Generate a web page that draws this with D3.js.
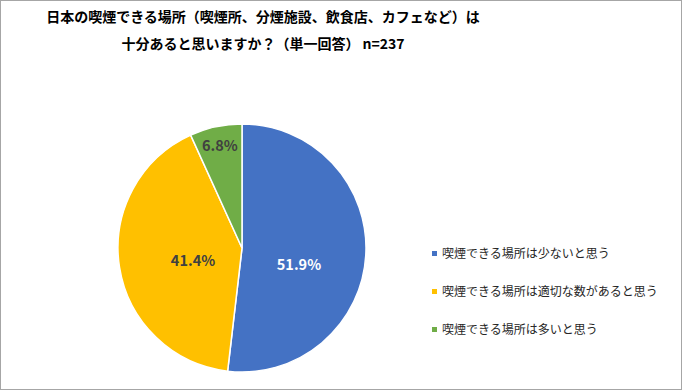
<!DOCTYPE html>
<html>
<head>
<meta charset="utf-8">
<script src="https://cdn.jsdelivr.net/npm/d3@7"></script>
<style>
  body { margin: 0; background: #fff; }
  svg { display: block; font-family: "Noto Sans CJK JP", "Noto Sans", sans-serif; }
</style>
</head>
<body>
<svg width="682" height="390"></svg>
<script>
const categories = [
  "喫煙できる場所は少ないと思う",
  "喫煙できる場所は適切な数があると思う",
  "喫煙できる場所は多いと思う"
];
const values = [51.9, 41.4, 6.8];
const colors = ["#4472c4", "#ffc000", "#70ad47"];
const labelColors = ["#ffffff", "#404040", "#404040"];
const titleLines = [
  "日本の喫煙できる場所（喫煙所、分煙施設、飲食店、カフェなど）は",
  "十分あると思いますか？（単一回答） n=237"
];

const svg = d3.select("svg");

svg.append("rect")
  .attr("x", 0.5).attr("y", 0.5)
  .attr("width", 681).attr("height", 389)
  .attr("fill", "#fff")
  .attr("stroke", "#a6a6a6");

svg.selectAll(".title")
  .data(titleLines)
  .enter().append("text")
  .attr("class", "title")
  .attr("x", 263)
  .attr("y", (d, i) => 22 + i * 27)
  .attr("text-anchor", "middle")
  .attr("font-size", 14)
  .attr("font-weight", "bold")
  .attr("fill", "#000")
  .text(d => d);

const cx = 242, cy = 248, radius = 124;

const pie = d3.pie().sort(null).value(d => d);
const arcs = pie(values);
const arc = d3.arc().innerRadius(0).outerRadius(radius);

// label radius (fraction of pie radius) and a small vertical nudge, Excel-like
const labelR = [0.46, 0.4, 0.84];
const labelNudge = [14, 5, 0];

const g = svg.append("g").attr("transform", `translate(${cx},${cy})`);

g.selectAll("path")
  .data(arcs)
  .enter().append("path")
  .attr("d", arc)
  .attr("fill", (d, i) => colors[i])
  .attr("stroke", "#fff")
  .attr("stroke-width", 1.5);

g.selectAll(".lbl")
  .data(arcs)
  .enter().append("text")
  .attr("class", "lbl")
  .attr("transform", (d, i) => {
    const r = radius * labelR[i];
    const c = d3.arc().innerRadius(r).outerRadius(r).centroid(d);
    return `translate(${c[0]},${c[1] + labelNudge[i]})`;
  })
  .attr("text-anchor", "middle")
  .attr("dy", "0.35em")
  .attr("font-size", 14.5)
  .attr("font-weight", "bold")
  .attr("fill", (d, i) => labelColors[i])
  .text(d => d.data.toFixed(1) + "%");

const legend = svg.append("g")
  .selectAll("g")
  .data(categories)
  .enter().append("g")
  .attr("transform", (d, i) => `translate(432,${254 + i * 38})`);

legend.append("rect")
  .attr("x", 0).attr("y", -3)
  .attr("width", 5).attr("height", 5)
  .attr("fill", (d, i) => colors[i]);

legend.append("text")
  .attr("x", 10)
  .attr("dy", "0.35em")
  .attr("font-size", 12)
  .attr("fill", "#262626")
  .text(d => d);
</script>
</body>
</html>
